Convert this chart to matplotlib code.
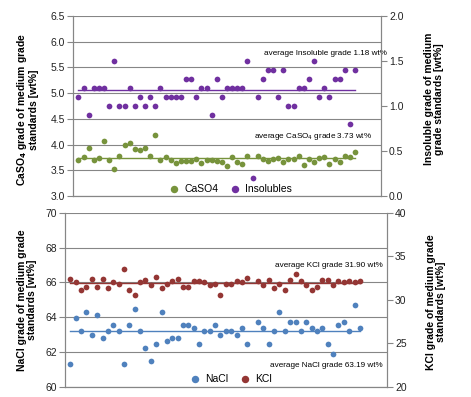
import numpy as np
import matplotlib.pyplot as plt

plt.rcParams['font.family'] = ['Liberation Sans', 'DejaVu Sans']

nan = np.nan

# sample number (1..55), index 34 missing for three series
sample = np.arange(1, 56)

caso4 = [3.70, 3.76, 3.94, 3.70, 3.73, 4.07, 3.70, 3.53, 3.78, 3.99,
         4.04, 3.92, 3.89, 3.94, 3.78, 4.19, 3.70, 3.75, 3.70, 3.65,
         3.68, 3.68, 3.68, 3.72, 3.65, 3.70, 3.70, 3.68, 3.66, 3.59,
         3.75, 3.66, 3.62, 3.78, nan, 3.78, 3.71, 3.69, 3.71, 3.73,
         3.66, 3.71, 3.71, 3.78, 3.60, 3.71, 3.66, 3.73, 3.75, 3.62,
         3.71, 3.67, 3.78, 3.75, 3.86]

insol = [1.1, 1.2, 0.9, 1.2, 1.2, 1.2, 1.0, 1.5, 1.0, 1.0,
         1.2, 1.0, 1.1, 1.0, 1.1, 1.0, 1.2, 1.1, 1.1, 1.1,
         1.1, 1.3, 1.3, 1.1, 1.2, 1.2, 0.9, 1.3, 1.1, 1.2,
         1.2, 1.2, 1.2, 1.5, 0.2, 1.1, 1.3, 1.4, 1.4, 1.1,
         1.4, 1.0, 1.0, 1.2, 1.2, 1.3, 1.5, 1.1, 1.2, 1.1,
         1.3, 1.3, 1.4, 0.8, 1.4]

nacl = [61.29, 63.93, 63.18, 64.29, 62.97, 64.10, 62.78, 63.18, 63.55, 63.18,
        61.29, 63.55, 64.48, 63.18, 62.22, 61.48, 62.44, 64.29, 62.61, 62.78,
        62.78, 63.55, 63.55, 63.36, 62.44, 63.18, 63.18, 63.55, 62.97, 63.18,
        63.18, 62.97, 63.36, 62.44, nan, 63.74, 63.36, 62.44, 63.18, 64.29,
        63.18, 63.74, 63.74, 63.18, 63.74, 63.36, 63.18, 63.36, 62.44, 61.86,
        63.55, 63.74, 63.18, 64.68, 63.36]

kcl = [32.41, 32.03, 31.15, 31.49, 32.41, 31.49, 32.41, 31.31, 32.03, 31.84,
       33.56, 31.15, 30.54, 32.03, 32.26, 31.65, 32.57, 31.31, 31.84, 32.15,
       32.41, 31.49, 31.49, 32.15, 32.15, 32.03, 31.72, 31.84, 30.54, 31.84,
       31.84, 32.15, 32.03, 32.49, nan, 32.15, 31.65, 32.26, 31.38, 31.84,
       31.08, 32.26, 32.95, 32.15, 31.65, 31.15, 31.49, 32.26, 32.26, 31.65,
       32.15, 32.03, 32.15, 32.03, 32.15]

avg_caso4 = 3.73
avg_insol = 1.18
avg_nacl = 63.19
avg_kcl = 31.90

c_green = '#77933C'
c_purple = '#7030A0'
c_blue = '#4F81BD'
c_red = '#943634'
grid_c = '#868686'
ms = 17

fig = plt.figure(figsize=(4.71, 3.97), dpi=100)


def style(ax, twin, ylim_l, yticks_l, ylim_r, yticks_r, fmt_l, fmt_r):
    ax.set_xlim(0, 60)
    ax.set_ylim(*ylim_l)
    ax.set_yticks(yticks_l)
    ax.set_yticklabels([fmt_l.format(v) for v in yticks_l])
    twin.set_ylim(*ylim_r)
    twin.set_yticks(yticks_r)
    twin.set_yticklabels([fmt_r.format(v) for v in yticks_r])
    ax.set_xticks([])
    ax.grid(axis='y', color=grid_c, lw=0.8)
    ax.set_axisbelow(True)
    for a in (ax, twin):
        for s in a.spines.values():
            s.set_color(grid_c)
            s.set_linewidth(0.8)
        a.spines['top'].set_visible(False)
        a.tick_params(axis='y', direction='out', length=4, width=0.8,
                      color=grid_c, labelsize=7.5, labelcolor='#222222', pad=2)


# top panel
ax1 = fig.add_axes([0.1556, 0.5063, 0.6527, 0.4534])
ax1r = ax1.twinx()
style(ax1, ax1r, (3.0, 6.5), np.arange(3.0, 6.51, 0.5), (0, 2.0),
      np.arange(0, 2.01, 0.5), '{:.1f}', '{:.1f}')
ax1.scatter(sample, caso4, s=ms, color=c_green, lw=0, label='CaSO4', zorder=3)
ax1.plot([sample[0], sample[-1]], [avg_caso4] * 2, color=c_green, lw=1.0)
ax1r.scatter(sample, insol, s=ms, color=c_purple, lw=0, label='Insolubles', zorder=3)
ax1r.plot([sample[0], sample[-1]], [avg_insol] * 2, color=c_purple, lw=1.0)
ax1.text(1.02, 0.789, 'average Insoluble grade %.2f wt%%' % avg_insol,
         transform=ax1.transAxes, ha='right', va='center', fontsize=5.9)
ax1.text(0.972, 0.329, 'average CaSO$_4$ grade %.2f wt%%' % avg_caso4,
         transform=ax1.transAxes, ha='right', va='center', fontsize=5.9)
h = [ax1.collections[0], ax1r.collections[0]]
ax1.legend(h, ['CaSO4', 'Insolubles'], loc='center', bbox_to_anchor=(0.503, 0.04),
           ncol=2, frameon=False, fontsize=7.5, handletextpad=0.0,
           columnspacing=0.6, borderpad=0, markerscale=1.3)

# bottom panel
ax2 = fig.add_axes([0.138, 0.0259, 0.683, 0.4383])
ax2r = ax2.twinx()
style(ax2, ax2r, (60, 70), np.arange(60, 71, 2), (20, 40),
      np.arange(20, 41, 5), '{:.0f}', '{:.0f}')
ax2.scatter(sample, nacl, s=ms, color=c_blue, lw=0, label='NaCl', zorder=3)
ax2.plot([sample[0], sample[-1]], [avg_nacl] * 2, color=c_blue, lw=1.0)
ax2r.scatter(sample, kcl, s=ms, color=c_red, lw=0, label='KCl', zorder=3)
ax2r.plot([sample[0], sample[-1]], [avg_kcl] * 2, color=c_red, lw=1.0)
ax2.text(0.988, 0.699, 'average KCl grade %.2f wt%%' % avg_kcl,
         transform=ax2.transAxes, ha='right', va='center', fontsize=5.9)
ax2.text(0.988, 0.123, 'average NaCl grade %.2f wt%%' % avg_nacl,
         transform=ax2.transAxes, ha='right', va='center', fontsize=5.9)
h = [ax2.collections[0], ax2r.collections[0]]
ax2.legend(h, ['NaCl', 'KCl'], loc='center', bbox_to_anchor=(0.507, 0.044),
           ncol=2, frameon=False, fontsize=7.5, handletextpad=0.0,
           columnspacing=0.6, borderpad=0, markerscale=1.3)

# axis titles
lab = dict(rotation=90, ha='center', va='center', fontsize=7.5, fontweight='bold',
           linespacing=1.0)
fig.text(0.058, 0.723, 'CaSO$_\\mathbf{4}$ grade of medium grade\nstandards [wt%]', **lab)
fig.text(0.921, 0.750, 'Insoluble grade of medium\ngrade standards [wt%]', **lab)
fig.text(0.058, 0.244, 'NaCl grade of medium grade\nstandards [wt%]', **lab)
fig.text(0.926, 0.240, 'KCl grade of medium grade\nstandards [wt%]', **lab)

fig.savefig('out.png', dpi=100)
